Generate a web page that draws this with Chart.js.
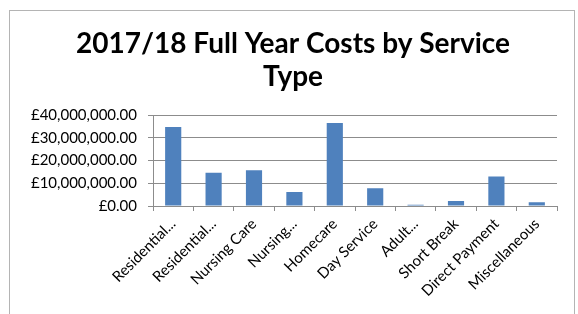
<!DOCTYPE html>
<html>
<head>
<meta charset="utf-8">
<script src="https://cdn.jsdelivr.net/npm/chart.js@4"></script>
<style>
  html, body { margin: 0; padding: 0; background: #fff; }
  #wrap { position: relative; width: 578px; height: 314px; overflow: hidden; }
  #frame { position: absolute; left: 9px; top: 10px; width: 564px; height: 330px; border: 1.5px solid #b4b4b4; }
  #costChart { position: absolute; left: 0; top: 0; }
</style>
</head>
<body>
<div id="wrap">
  <div id="frame"></div>
  <canvas id="costChart" width="578" height="314"></canvas>
</div>
<script>
// chart data
const serviceTypes = ['Residential...', 'Residential...', 'Nursing Care', 'Nursing...', 'Homecare',
    'Day Service', 'Adult...', 'Short Break', 'Direct Payment', 'Miscellaneous'];
const fullYearCosts = [34800000, 14600000, 15800000, 6200000, 36600000, 7800000, 600000, 2200000, 13000000, 1700000];
const yTicks = [0, 10000000, 20000000, 30000000, 40000000];
const titleLines = ['2017/18 Full Year Costs by Service', 'Type'];

const ctx = document.getElementById('costChart').getContext('2d');
const gridGrey = '#8c8c8c';
const padLeft = 29;

const chart = new Chart(ctx, {
    type: 'bar',
    data: {
        labels: serviceTypes,
        datasets: [{
            data: fullYearCosts,
            backgroundColor: '#4f81bd',
            categoryPercentage: 1,
            barPercentage: 0.4
        }]
    },
    options: {
        responsive: false,
        animation: false,
        layout: { padding: { top: 0, right: 21, bottom: 0, left: padLeft } },
        scales: {
            x: {
                grid: { drawOnChartArea: false, color: gridGrey, tickLength: 5, offset: true },
                border: { color: gridGrey },
                ticks: {
                    color: '#000',
                    font: { family: 'Lato', size: 15 },
                    minRotation: 45,
                    maxRotation: 45,
                    autoSkip: false,
                    padding: 4
                },
                afterFit: scale => { scale.height = 108; }
            },
            y: {
                min: 0,
                max: 40000000,
                afterBuildTicks: scale => { scale.ticks = yTicks.map(v => ({ value: v })); },
                grid: { color: gridGrey, tickLength: 5 },
                border: { color: gridGrey },
                ticks: {
                    color: '#000',
                    padding: 11,
                    font: { family: 'Lato', size: 15 },
                    callback: v => '£' + v.toLocaleString('en-GB', { minimumFractionDigits: 2, maximumFractionDigits: 2 })
                },
                afterFit: scale => { scale.width = 153 - padLeft; }
            }
        },
        plugins: {
            legend: { display: false },
            tooltip: { enabled: false },
            title: {
                display: true,
                text: titleLines,
                color: '#000',
                font: { family: 'Lato', size: 28, weight: 'bold', lineHeight: 1.2 },
                padding: { top: 27, bottom: 21 }
            }
        }
    }
});
</script>
</body>
</html>
